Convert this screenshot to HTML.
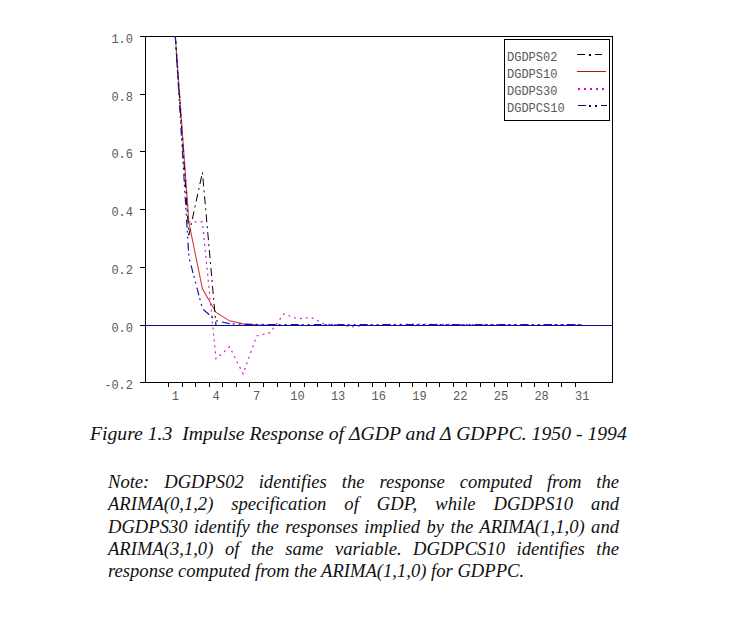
<!DOCTYPE html><html><head><meta charset="utf-8"><style>
html,body{margin:0;padding:0;background:#fff;}
body{width:735px;height:622px;position:relative;overflow:hidden;}
.m{position:absolute;font-family:"Liberation Mono",monospace;font-size:12px;line-height:12px;color:#5a5a5a;}
.yl{right:602px;text-align:right;}
.xl{width:40px;text-align:center;margin-left:-20px;}
.cap{position:absolute;left:90px;top:421px;font-family:"Liberation Serif",serif;font-style:italic;font-size:19.7px;line-height:24px;color:#111;white-space:nowrap;}
.note{position:absolute;left:108px;top:471px;width:511px;font-family:"Liberation Serif",serif;font-style:italic;font-size:18.6px;line-height:22.3px;color:#111;text-align:justify;}
.note span{display:block;text-align:justify;text-align-last:justify;}
.note span.last{text-align-last:left;}
svg{position:absolute;left:0;top:0;}
</style></head><body>
<svg width="735" height="622" viewBox="0 0 735 622" shape-rendering="crispEdges">
<rect x="145.5" y="36.5" width="467" height="346" fill="none" stroke="#000" stroke-width="1"/>
<line x1="140" y1="36.5" x2="145" y2="36.5" stroke="#000" stroke-width="1"/>
<line x1="140" y1="94.5" x2="145" y2="94.5" stroke="#000" stroke-width="1"/>
<line x1="140" y1="151.5" x2="145" y2="151.5" stroke="#000" stroke-width="1"/>
<line x1="140" y1="209.5" x2="145" y2="209.5" stroke="#000" stroke-width="1"/>
<line x1="140" y1="267.5" x2="145" y2="267.5" stroke="#000" stroke-width="1"/>
<line x1="140" y1="325.5" x2="145" y2="325.5" stroke="#000" stroke-width="1"/>
<line x1="140" y1="382.5" x2="145" y2="382.5" stroke="#000" stroke-width="1"/>
<line x1="168.5" y1="383" x2="168.5" y2="387" stroke="#000" stroke-width="1"/>
<line x1="182.5" y1="383" x2="182.5" y2="387" stroke="#000" stroke-width="1"/>
<line x1="195.5" y1="383" x2="195.5" y2="387" stroke="#000" stroke-width="1"/>
<line x1="209.5" y1="383" x2="209.5" y2="387" stroke="#000" stroke-width="1"/>
<line x1="222.5" y1="383" x2="222.5" y2="387" stroke="#000" stroke-width="1"/>
<line x1="236.5" y1="383" x2="236.5" y2="387" stroke="#000" stroke-width="1"/>
<line x1="249.5" y1="383" x2="249.5" y2="387" stroke="#000" stroke-width="1"/>
<line x1="263.5" y1="383" x2="263.5" y2="387" stroke="#000" stroke-width="1"/>
<line x1="277.5" y1="383" x2="277.5" y2="387" stroke="#000" stroke-width="1"/>
<line x1="290.5" y1="383" x2="290.5" y2="387" stroke="#000" stroke-width="1"/>
<line x1="304.5" y1="383" x2="304.5" y2="387" stroke="#000" stroke-width="1"/>
<line x1="317.5" y1="383" x2="317.5" y2="387" stroke="#000" stroke-width="1"/>
<line x1="331.5" y1="383" x2="331.5" y2="387" stroke="#000" stroke-width="1"/>
<line x1="344.5" y1="383" x2="344.5" y2="387" stroke="#000" stroke-width="1"/>
<line x1="358.5" y1="383" x2="358.5" y2="387" stroke="#000" stroke-width="1"/>
<line x1="372.5" y1="383" x2="372.5" y2="387" stroke="#000" stroke-width="1"/>
<line x1="385.5" y1="383" x2="385.5" y2="387" stroke="#000" stroke-width="1"/>
<line x1="399.5" y1="383" x2="399.5" y2="387" stroke="#000" stroke-width="1"/>
<line x1="412.5" y1="383" x2="412.5" y2="387" stroke="#000" stroke-width="1"/>
<line x1="426.5" y1="383" x2="426.5" y2="387" stroke="#000" stroke-width="1"/>
<line x1="439.5" y1="383" x2="439.5" y2="387" stroke="#000" stroke-width="1"/>
<line x1="453.5" y1="383" x2="453.5" y2="387" stroke="#000" stroke-width="1"/>
<line x1="466.5" y1="383" x2="466.5" y2="387" stroke="#000" stroke-width="1"/>
<line x1="480.5" y1="383" x2="480.5" y2="387" stroke="#000" stroke-width="1"/>
<line x1="494.5" y1="383" x2="494.5" y2="387" stroke="#000" stroke-width="1"/>
<line x1="507.5" y1="383" x2="507.5" y2="387" stroke="#000" stroke-width="1"/>
<line x1="521.5" y1="383" x2="521.5" y2="387" stroke="#000" stroke-width="1"/>
<line x1="534.5" y1="383" x2="534.5" y2="387" stroke="#000" stroke-width="1"/>
<line x1="548.5" y1="383" x2="548.5" y2="387" stroke="#000" stroke-width="1"/>
<line x1="561.5" y1="383" x2="561.5" y2="387" stroke="#000" stroke-width="1"/>
<line x1="575.5" y1="383" x2="575.5" y2="387" stroke="#000" stroke-width="1"/>
<polyline shape-rendering="geometricPrecision" points="175.30,36.00 188.87,221.79 202.43,221.87 216.00,358.78 229.57,346.79 243.14,373.85 256.70,335.96 270.27,332.59 283.84,313.87 297.40,318.82 310.97,317.40 324.54,324.15 338.10,324.61 351.67,326.78 365.24,325.45 378.81,325.33 392.37,324.27 405.94,324.30 419.51,324.10 433.07,324.39 446.64,324.44 460.21,324.58 473.77,324.55 487.34,324.56 500.91,324.51 514.48,324.50 528.04,324.48 541.61,324.49 555.18,324.49 568.74,324.50 582.31,324.50" fill="none" stroke="#c828c8" stroke-width="1.2" stroke-dasharray="2 4"/>
<polyline shape-rendering="geometricPrecision" points="175.30,36.00 188.87,222.44 202.43,288.81 216.00,312.44 229.57,320.85 243.14,323.84 256.70,324.91 270.27,325.29 283.84,325.43 297.40,325.47 310.97,325.49 324.54,325.50 338.10,325.50 351.67,325.50 365.24,325.50 378.81,325.50 392.37,325.50 405.94,325.50 419.51,325.50 433.07,325.50 446.64,325.50 460.21,325.50 473.77,325.50 487.34,325.50 500.91,325.50 514.48,325.50 528.04,325.50 541.61,325.50 555.18,325.50 568.74,325.50 582.31,325.50" fill="none" stroke="#d83838" stroke-width="1.1"/>
<polyline shape-rendering="geometricPrecision" points="175.30,36.00 188.87,235.18 202.43,172.35 216.00,325.50 229.57,325.50 243.14,325.50 256.70,325.50 270.27,325.50 283.84,325.50 297.40,325.50 310.97,325.50 324.54,325.50 338.10,325.50 351.67,325.50 365.24,325.50 378.81,325.50 392.37,325.50 405.94,325.50 419.51,325.50 433.07,325.50 446.64,325.50 460.21,325.50 473.77,325.50 487.34,325.50 500.91,325.50 514.48,325.50 528.04,325.50 541.61,325.50 555.18,325.50 568.74,325.50 582.31,325.50" fill="none" stroke="#000000" stroke-width="1" stroke-dasharray="8 4 2 4"/>
<polyline shape-rendering="geometricPrecision" points="175.30,36.00 188.87,256.99 202.43,308.70 216.00,320.80 229.57,323.64 243.14,324.30 256.70,324.45 270.27,324.49 283.84,324.50 297.40,324.50 310.97,324.50 324.54,324.50 338.10,324.50 351.67,324.50 365.24,324.50 378.81,324.50 392.37,324.50 405.94,324.50 419.51,324.50 433.07,324.50 446.64,324.50 460.21,324.50 473.77,324.50 487.34,324.50 500.91,324.50 514.48,324.50 528.04,324.50 541.61,324.50 555.18,324.50 568.74,324.50 582.31,324.50" fill="none" stroke="#1818b0" stroke-width="1.2" stroke-dasharray="8 3 2 4 2 4"/>
<line x1="145" y1="325.5" x2="612" y2="325.5" stroke="#0c0c9c" stroke-width="1"/>
<rect x="504.5" y="39.5" width="105" height="81" fill="#fff" stroke="#000" stroke-width="1"/>
<line x1="577" y1="54.5" x2="602" y2="54.5" stroke="#000" stroke-width="1" stroke-dasharray="8 4 2 4"/>
<line x1="577" y1="71.5" x2="606" y2="71.5" stroke="#b01818" stroke-width="1"/>
<line x1="578" y1="89" x2="606" y2="89" stroke="#d800d8" stroke-width="2" stroke-dasharray="2 4"/>
<line x1="578" y1="105.5" x2="607" y2="105.5" stroke="#000080" stroke-width="1" stroke-dasharray="8 3 2 4 2 4"/>
<rect x="589" y="54" width="2" height="2" fill="#000"/>
<rect x="589" y="105" width="2" height="2" fill="#000080"/>
<rect x="595" y="105" width="2" height="2" fill="#000080"/>
</svg>
<div class="m yl" style="top:34.0px">1.0</div>
<div class="m yl" style="top:92.0px">0.8</div>
<div class="m yl" style="top:149.0px">0.6</div>
<div class="m yl" style="top:207.0px">0.4</div>
<div class="m yl" style="top:265.0px">0.2</div>
<div class="m yl" style="top:323.0px">0.0</div>
<div class="m yl" style="top:380.0px">-0.2</div>
<div class="m xl" style="left:175.3px;top:391px">1</div>
<div class="m xl" style="left:216.0px;top:391px">4</div>
<div class="m xl" style="left:256.7px;top:391px">7</div>
<div class="m xl" style="left:297.4px;top:391px">10</div>
<div class="m xl" style="left:338.1px;top:391px">13</div>
<div class="m xl" style="left:378.8px;top:391px">16</div>
<div class="m xl" style="left:419.5px;top:391px">19</div>
<div class="m xl" style="left:460.2px;top:391px">22</div>
<div class="m xl" style="left:500.9px;top:391px">25</div>
<div class="m xl" style="left:541.6px;top:391px">28</div>
<div class="m xl" style="left:582.3px;top:391px">31</div>
<div class="m" style="left:507px;top:52.0px">DGDPS02</div>
<div class="m" style="left:507px;top:69.0px">DGDPS10</div>
<div class="m" style="left:507px;top:86.0px">DGDPS30</div>
<div class="m" style="left:507px;top:103.0px">DGDPCS10</div>
<div class="cap">Figure 1.3&nbsp; Impulse Response of &Delta;GDP and &Delta; GDPPC. 1950 - 1994</div>
<div class="note">
<span>Note: DGDPS02 identifies the response computed from the</span>
<span>ARIMA(0,1,2) specification of GDP, while DGDPS10 and</span>
<span>DGDPS30 identify the responses implied by the ARIMA(1,1,0) and</span>
<span>ARIMA(3,1,0) of the same variable. DGDPCS10 identifies the</span>
<span class="last">response computed from the ARIMA(1,1,0) for GDPPC.</span>
</div>
</body></html>
